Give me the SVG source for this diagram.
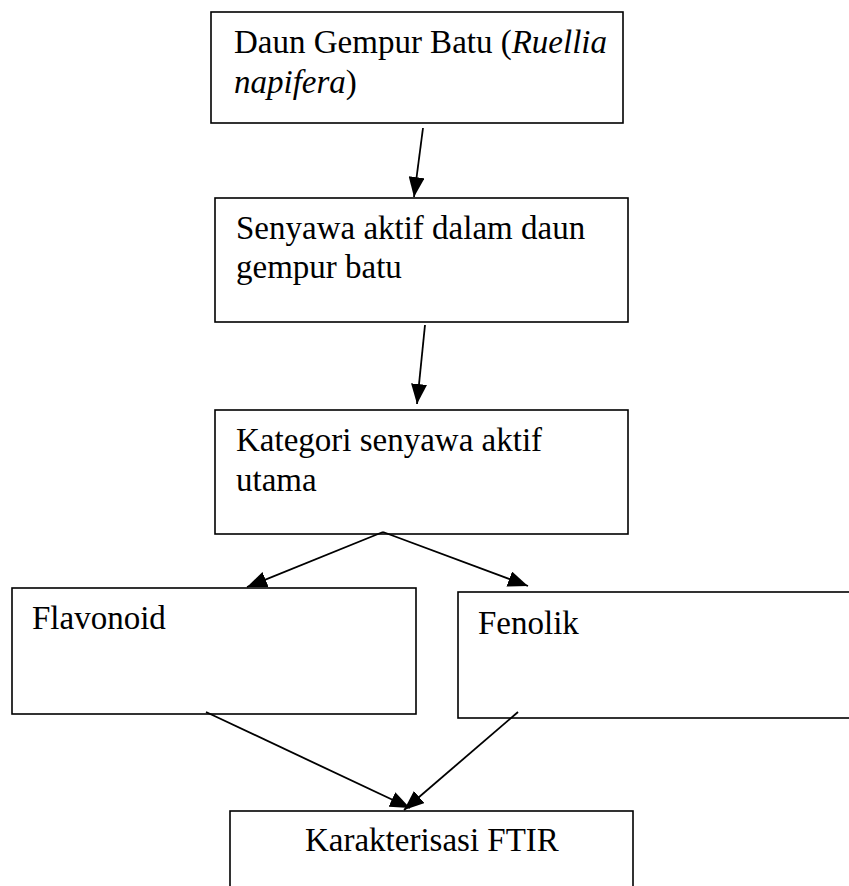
<svg xmlns="http://www.w3.org/2000/svg" width="849" height="886" viewBox="0 0 849 886">
<style>
.box{fill:#fff;stroke:#000;stroke-width:1.6}
.t{font-family:"Liberation Serif","Times New Roman",serif;font-size:33px;fill:#000}
.c{stroke:#000;stroke-width:1.8;fill:none;marker-end:url(#ah)}
</style>
<defs>
<marker id="ah" markerUnits="userSpaceOnUse" markerWidth="20" markerHeight="16" refX="20" refY="8" orient="auto">
<path d="M0,0 L20,8 L0,16 z" fill="#000"/>
</marker>
</defs>
<rect width="849" height="886" fill="#fff"/>
<g id="n1"><rect class="box" x="211" y="12" width="412" height="111"/>
<text class="t" x="234" y="53">Daun Gempur Batu (<tspan font-style="italic">Ruellia</tspan></text>
<text class="t" x="234" y="93"><tspan font-style="italic">napifera</tspan>)</text></g>
<g id="n2"><rect class="box" x="215" y="198" width="413" height="124"/>
<text class="t" x="236" y="239">Senyawa aktif dalam daun</text>
<text class="t" x="236" y="278">gempur batu</text></g>
<g id="n3"><rect class="box" x="215" y="410" width="413" height="124"/>
<text class="t" x="236" y="451">Kategori senyawa aktif</text>
<text class="t" x="236" y="491">utama</text></g>
<g id="n4"><rect class="box" x="12" y="588" width="404" height="126"/>
<text class="t" x="32" y="629">Flavonoid</text></g>
<g id="n5"><rect class="box" x="458" y="592" width="400" height="126"/>
<text class="t" x="478" y="634">Fenolik</text></g>
<g id="n6"><rect class="box" x="230" y="811" width="403" height="90"/>
<text class="t" x="305" y="851">Karakterisasi FTIR</text></g>
<g id="connectors">
<line class="c" x1="423" y1="128" x2="414" y2="197"/>
<line class="c" x1="425" y1="325" x2="417" y2="404"/>
<line class="c" x1="383" y1="532" x2="247" y2="587"/>
<line class="c" x1="383" y1="532" x2="528" y2="586"/>
<line class="c" x1="206" y1="712" x2="410" y2="808"/>
<line class="c" x1="518" y1="712" x2="404" y2="810"/>
</g>
</svg>
